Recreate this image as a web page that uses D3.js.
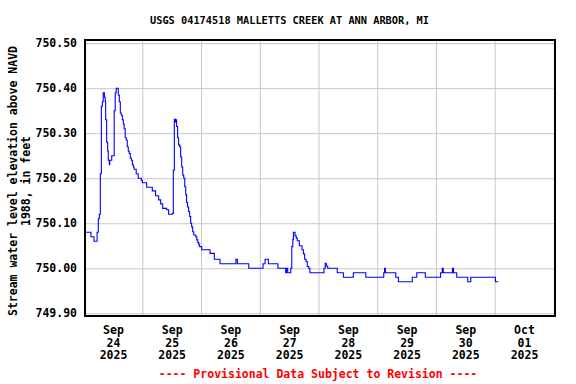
<!DOCTYPE html>
<html>
<head>
<meta charset="utf-8">
<script src="https://cdn.jsdelivr.net/npm/d3@7"></script>
<style>
  body { margin: 0; background: #fff; }
  svg { display: block; }
  text { font-family: 'DejaVu Sans Mono', monospace; font-weight: bold; }
</style>
</head>
<body>
<div id="chart"></div>
<script>
const stationTitle = 'USGS 04174518 MALLETTS CREEK AT ANN ARBOR, MI';
const yTitleLines = ['Stream water level elevation above NAVD', '1988, in feet'];
const footNote = '---- Provisional Data Subject to Revision ----';

const yTicks = [749.90, 750.00, 750.10, 750.20, 750.30, 750.40, 750.50];
const dayLabels = ['2025-09-24', '2025-09-25', '2025-09-26', '2025-09-27',
  '2025-09-28', '2025-09-29', '2025-09-30', '2025-10-01'];
const gridDays = ['2025-09-24 12:00', '2025-09-25 12:00', '2025-09-26 12:00',
  '2025-09-27 12:00', '2025-09-28 12:00', '2025-09-29 12:00', '2025-09-30 12:00'];

// 2025, local time
const times = [
  '09-23 12:30', '09-23 15:00', '09-23 16:15', '09-23 17:30', '09-23 18:00', '09-23 18:25',
  '09-23 18:50', '09-23 19:15', '09-23 19:40', '09-23 20:00', '09-23 20:30', '09-23 20:50',
  '09-23 21:00', '09-23 21:25', '09-23 21:50', '09-23 22:05', '09-23 22:30', '09-23 22:40',
  '09-23 23:30', '09-24 00:30', '09-24 00:55', '09-24 01:20', '09-24 02:10', '09-24 02:35',
  '09-24 03:00', '09-24 03:25', '09-24 03:50', '09-24 04:15', '09-24 04:35', '09-24 05:00',
  '09-24 05:25', '09-24 05:50', '09-24 06:15', '09-24 06:40', '09-24 07:05', '09-24 07:30',
  '09-24 07:55', '09-24 08:20', '09-24 08:40', '09-24 09:30', '09-24 10:20', '09-24 11:35',
  '09-24 12:00', '09-24 13:45', '09-24 16:05', '09-24 17:25', '09-24 18:40', '09-24 19:30',
  '09-24 20:20', '09-24 21:55', '09-24 22:45', '09-25 00:15', '09-25 00:40', '09-25 01:05',
  '09-25 01:30', '09-25 01:45', '09-25 02:00', '09-25 02:25', '09-25 02:50', '09-25 03:15',
  '09-25 03:40', '09-25 04:05', '09-25 04:30', '09-25 04:55', '09-25 05:20', '09-25 05:45',
  '09-25 06:05', '09-25 06:30', '09-25 06:55', '09-25 07:20', '09-25 07:45', '09-25 08:10',
  '09-25 08:35', '09-25 09:00', '09-25 09:50', '09-25 10:15', '09-25 10:40', '09-25 11:05',
  '09-25 11:25', '09-25 12:15', '09-25 15:40', '09-25 17:25', '09-25 19:45', '09-26 02:15',
  '09-26 02:50', '09-26 07:30', '09-26 13:20', '09-26 14:10', '09-26 15:30', '09-26 19:25',
  '09-26 22:35', '09-26 22:55', '09-26 23:25', '09-27 00:40', '09-27 01:05', '09-27 01:30',
  '09-27 01:45', '09-27 02:25', '09-27 02:55', '09-27 03:20', '09-27 04:10', '09-27 05:15',
  '09-27 05:50', '09-27 06:20', '09-27 06:55', '09-27 07:25', '09-27 08:00', '09-27 08:30',
  '09-27 14:15', '09-27 14:45', '09-27 15:10', '09-27 15:45', '09-27 19:40', '09-27 22:10',
  '09-28 02:15', '09-28 07:20', '09-28 14:40', '09-28 15:00', '09-28 15:20', '09-28 19:35',
  '09-28 20:40', '09-29 02:20', '09-29 04:10', '09-29 07:40', '09-29 13:55', '09-29 14:35',
  '09-29 15:00', '09-29 18:45', '09-29 19:10', '09-29 20:30', '09-30 01:00', '09-30 02:15',
  '09-30 12:20', '09-30 13:30'
];
const levels = [
  750.08, 750.07, 750.06, 750.08, 750.11, 750.12,
  750.21, 750.36, 750.37, 750.39, 750.38, 750.37,
  750.33, 750.28, 750.26, 750.24, 750.23, 750.24,
  750.25, 750.35, 750.39, 750.40, 750.385, 750.37,
  750.345, 750.34, 750.33, 750.32, 750.31, 750.29,
  750.285, 750.27, 750.26, 750.255, 750.245, 750.24,
  750.23, 750.225, 750.22, 750.21, 750.20, 750.195,
  750.19, 750.18, 750.172, 750.161, 750.152, 750.143,
  750.133, 750.13, 750.12, 750.122, 750.218, 750.331,
  750.325, 750.33, 750.315, 750.29, 750.274, 750.27,
  750.247, 750.225, 750.207, 750.20, 750.181, 750.163,
  750.146, 750.136, 750.126, 750.115, 750.10, 750.092,
  750.081, 750.074, 750.07, 750.063, 750.057, 750.052,
  750.048, 750.041, 750.033, 750.02, 750.01, 750.02,
  750.01, 750.00, 750.01, 750.02, 750.01, 750.00,
  749.99, 750.00, 749.99, 750.00, 750.048, 750.064,
  750.08, 750.072, 750.067, 750.061, 750.05, 750.041,
  750.032, 750.02, 750.015, 750.004, 750.00, 749.99,
  750.00, 750.011, 750.005, 750.00, 749.99, 749.98,
  749.99, 749.98, 749.99, 750.00, 749.99, 749.98,
  749.97, 749.98, 749.99, 749.98, 749.99, 750.00,
  749.99, 750.00, 749.99, 749.98, 749.97, 749.98,
  749.97, 749.97
];

const width = 576;
const height = 384;
const plot = {left: 85, right: 555, top: 40, bottom: 316};

const parseTime = d3.timeParse('%Y-%m-%d %H:%M');
const parseDay = d3.timeParse('%Y-%m-%d');
const series = times.map((t, i) => ({t: parseTime('2025-' + t), v: levels[i]}));

const xScale = d3.scaleTime()
  .domain([parseTime('2025-09-23 12:34'), parseTime('2025-10-01 12:40')])
  .range([plot.left, plot.right]);
const yScale = d3.scaleLinear()
  .domain([749.894, 750.507])
  .range([plot.bottom, plot.top]);

const svg = d3.select('#chart').append('svg')
  .attr('width', width)
  .attr('height', height);

svg.append('rect').attr('width', width).attr('height', height).attr('fill', '#fff');

// grid
const gridG = svg.append('g');
gridG.append('g')
  .attr('transform', 'translate(' + plot.left + ',0)')
  .call(d3.axisLeft(yScale).tickValues(yTicks).tickSize(-(plot.right - plot.left)).tickFormat(''))
  .call(g => g.select('.domain').remove())
  .call(g => g.selectAll('line').attr('stroke', '#c8c8c8'));
gridG.append('g')
  .attr('transform', 'translate(0,' + plot.bottom + ')')
  .call(d3.axisBottom(xScale).tickValues(gridDays.map(parseTime)).tickSize(-(plot.bottom - plot.top)).tickFormat(''))
  .call(g => g.select('.domain').remove())
  .call(g => g.selectAll('line').attr('stroke', '#c8c8c8'));

// data line
const line = d3.line()
  .x(d => xScale(d.t))
  .y(d => yScale(d.v))
  .curve(d3.curveStepAfter);
svg.append('path')
  .datum(series)
  .attr('d', line)
  .attr('fill', 'none')
  .attr('stroke', '#0000ff')
  .attr('stroke-width', 1.1);

// frame
svg.append('rect')
  .attr('x', plot.left).attr('y', plot.top)
  .attr('width', plot.right - plot.left).attr('height', plot.bottom - plot.top)
  .attr('fill', 'none').attr('stroke', '#000').attr('stroke-width', 2);

// y axis labels
svg.append('g')
  .attr('transform', 'translate(' + plot.left + ',0)')
  .call(d3.axisLeft(yScale).tickValues(yTicks).tickSize(0).tickPadding(8).tickFormat(d3.format('.2f')))
  .call(g => g.select('.domain').remove())
  .call(g => g.selectAll('text')
    .attr('font-family', "'DejaVu Sans Mono', monospace")
    .attr('font-weight', 'bold')
    .attr('font-size', 11.5)
    .attr('fill', '#000'));

// x axis labels, three lines each
const fmtMon = d3.timeFormat('%b');
const fmtDay = d3.timeFormat('%d');
const fmtYear = d3.timeFormat('%Y');
svg.append('g')
  .attr('transform', 'translate(0,' + plot.bottom + ')')
  .call(d3.axisBottom(xScale).tickValues(dayLabels.map(parseDay)).tickSize(0).tickFormat(''))
  .call(g => g.select('.domain').remove())
  .call(g => g.selectAll('.tick text').each(function(d) {
    const t = d3.select(this)
      .attr('y', 0).attr('dy', null)
      .attr('font-family', "'DejaVu Sans Mono', monospace")
      .attr('font-weight', 'bold')
      .attr('font-size', 11.5)
      .attr('fill', '#000');
    [fmtMon(d), fmtDay(d), fmtYear(d)].forEach((s, i) => {
      t.append('tspan').attr('x', 0).attr('y', 18 + i * 12.7).text(s);
    });
  }));

// titles
svg.append('text')
  .attr('x', 289.5).attr('y', 24)
  .attr('text-anchor', 'middle')
  .attr('font-size', 10.3)
  .attr('fill', '#000')
  .text(stationTitle);

const yTitle = svg.append('text')
  .attr('transform', 'translate(0,181) rotate(-90)')
  .attr('text-anchor', 'middle')
  .attr('font-size', 11.5)
  .attr('fill', '#000');
yTitleLines.forEach((s, i) => {
  yTitle.append('tspan').attr('x', 0).attr('y', 16.5 + i * 13).text(s);
});

svg.append('text')
  .attr('x', 318).attr('y', 378)
  .attr('text-anchor', 'middle')
  .attr('font-size', 11.5)
  .attr('fill', '#ff0000')
  .text(footNote);
</script>
</body>
</html>
